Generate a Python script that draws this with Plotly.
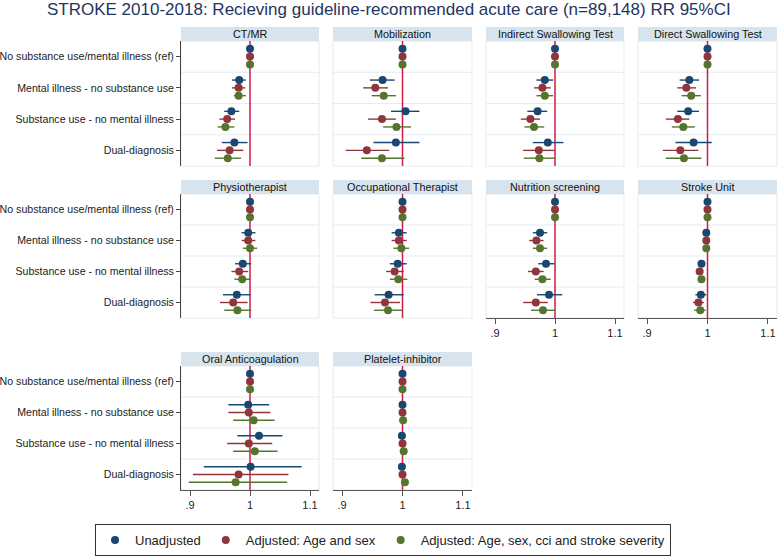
import plotly.graph_objects as go

# ---------------- data ----------------
CATEGORIES = [
    "No substance use/mental illness (ref)",
    "Mental illness - no substance use",
    "Substance use - no mental illness",
    "Dual-diagnosis",
]
SERIES = ["Unadjusted", "Adjusted: Age and sex", "Adjusted: Age, sex, cci and stroke severity"]
PANELS = [
    "CT/MR", "Mobilization", "Indirect Swallowing Test", "Direct Swallowing Test",
    "Physiotherapist", "Occupational Therapist", "Nutrition screening", "Stroke Unit",
    "Oral Anticoagulation", "Platelet-inhibitor",
]
X_TICKS = [0.9, 1.0, 1.1]
X_TICK_LABELS = [".9", "1", "1.1"]
TITLE = "STROKE 2010-2018: Recieving guideline-recommended acute care (n=89,148) RR 95%CI"

# each: [unadjusted, age+sex, fully adjusted] x 4 categories
CTMR_RR = [[1, .982, .969, .974], [1, .981, .962, .966], [1, .981, .959, .963]]
CTMR_LO = [[1, .970, .957, .953], [1, .970, .949, .945], [1, .973, .946, .941]]
CTMR_HI = [[1, .993, .982, .996], [1, .992, .975, .989], [1, .993, .974, .985]]

MOB_RR = [[1, .967, 1.005, .989], [1, .955, .966, .941], [1, .969, .990, .966]]
MOB_LO = [[1, .946, .981, .952], [1, .935, .943, .906], [1, .949, .968, .932]]
MOB_HI = [[1, .987, 1.028, 1.028], [1, .976, .989, .978], [1, .989, 1.014, 1.003]]

IST_RR = [[1, .983, .971, .988], [1, .979, .959, .973], [1, .983, .965, .974]]
IST_LO = [[1, .969, .954, .963], [1, .965, .943, .947], [1, .969, .949, .948]]
IST_HI = [[1, .997, .987, 1.014], [1, .993, .975, .999], [1, .997, .982, 1.000]]

DST_RR = [[1, .970, .968, .977], [1, .965, .951, .955], [1, .973, .960, .961]]
DST_LO = [[1, .954, .950, .947], [1, .950, .931, .926], [1, .957, .941, .931]]
DST_HI = [[1, .986, .986, 1.007], [1, .981, .970, .985], [1, .989, .979, .990]]

PHY_RR = [[1, .997, .988, .978], [1, .997, .982, .972], [1, 1.000, .987, .979]]
PHY_LO = [[1, .986, .975, .955], [1, .986, .969, .950], [1, .988, .974, .957]]
PHY_HI = [[1, 1.009, 1.002, 1.001], [1, 1.009, .997, .996], [1, 1.012, 1.001, 1.002]]

OT_RR = [[1, .994, .992, .977], [1, .994, .987, .971], [1, .998, .993, .976]]
OT_LO = [[1, .982, .979, .954], [1, .982, .973, .947], [1, .985, .979, .953]]
OT_HI = [[1, 1.007, 1.007, 1.002], [1, 1.007, 1.002, .996], [1, 1.011, 1.008, 1.000]]

NUT_RR = [[1, .975, .985, .990], [1, .969, .968, .968], [1, .975, .979, .980]]
NUT_LO = [[1, .963, .972, .970], [1, .957, .955, .947], [1, .963, .966, .960]]
NUT_HI = [[1, .987, .999, 1.012], [1, .981, .981, .988], [1, .987, .993, 1.000]]

SU_RR = [[1, .998, .990, .989], [1, .998, .987, .985], [1, .998, .990, .988]]
SU_LO = [[1, .995, .984, .980], [1, .994, .981, .976], [1, .994, .984, .978]]
SU_HI = [[1, 1.001, .995, .998], [1, 1.002, .992, .994], [1, 1.002, .995, .997]]

OAC_RR = [[1, .997, 1.015, 1.001], [1, .998, .998, .981], [1, 1.006, 1.008, .976]]
OAC_LO = [[1, .964, .979, .923], [1, .964, .962, .905], [1, .972, .972, .898]]
OAC_HI = [[1, 1.032, 1.054, 1.086], [1, 1.034, 1.037, 1.064], [1, 1.041, 1.046, 1.062]]

PLT_RR = [[1, 1.000, .999, .999], [1, 1.000, 1.000, 1.000], [1, 1.001, 1.002, 1.004]]
PLT_LO = [[1, .998, .997, .997], [1, .998, .998, .998], [1, .999, 1.000, 1.002]]
PLT_HI = [[1, 1.002, 1.001, 1.001], [1, 1.002, 1.002, 1.002], [1, 1.003, 1.004, 1.006]]

PANEL_DATA = [
    (CTMR_RR, CTMR_LO, CTMR_HI), (MOB_RR, MOB_LO, MOB_HI), (IST_RR, IST_LO, IST_HI),
    (DST_RR, DST_LO, DST_HI), (PHY_RR, PHY_LO, PHY_HI), (OT_RR, OT_LO, OT_HI),
    (NUT_RR, NUT_LO, NUT_HI), (SU_RR, SU_LO, SU_HI), (OAC_RR, OAC_LO, OAC_HI),
    (PLT_RR, PLT_LO, PLT_HI),
]

# ---------------- style / layout ----------------
W, H = 778, 557
COLORS = ["#1a476f", "#90353b", "#55752f"]
OFFSETS = [-0.25, 0.0, 0.25]
COL_X = [(181, 319), (333, 472), (486, 624), (638, 777)]
ROW_Y = [(41, 166), (194, 318), (366, 490)]
HEAD_H = 14
FONT = "Liberation Sans, Arial, sans-serif"
XAXIS_PANELS = {6, 7, 8, 9}


def px_x(v):
    return v / W


def px_y(v):
    return 1 - v / H


fig = go.Figure()
shapes = []
annotations = []
layout_axes = {}

for k, title in enumerate(PANELS):
    r, c = divmod(k, 4)
    n = k + 1
    xs = "" if n == 1 else str(n)
    rr, lo, hi = PANEL_DATA[k]
    for s in range(3):
        ys = [i + 1 + OFFSETS[s] for i in range(len(CATEGORIES))]
        fig.add_trace(go.Scatter(
            x=rr[s], y=ys, mode="markers",
            marker=dict(color=COLORS[s], size=8),
            error_x=dict(type="data", symmetric=False,
                         array=[h - e for h, e in zip(hi[s], rr[s])],
                         arrayminus=[e - l for e, l in zip(rr[s], lo[s])],
                         color=COLORS[s], thickness=1.4, width=0),
            name=SERIES[s], legendgroup=SERIES[s], showlegend=(k == 0),
            xaxis="x" + xs, yaxis="y" + xs, hoverinfo="skip",
        ))
    x0, x1 = COL_X[c]
    y0, y1 = ROW_Y[r]
    show_x = k in XAXIS_PANELS
    layout_axes["xaxis" + xs] = dict(
        domain=[px_x(x0), px_x(x1)], anchor="y" + xs, range=[0.885, 1.115],
        tickvals=X_TICKS, ticktext=X_TICK_LABELS, showgrid=False, zeroline=False,
        showticklabels=show_x, ticks="outside" if show_x else "", ticklen=5,
        tickcolor="#555", showline=show_x, linecolor="#555", linewidth=1,
        tickfont=dict(family=FONT, size=11, color="#222"), automargin=False,
    )
    show_y = c == 0
    layout_axes["yaxis" + xs] = dict(
        domain=[px_y(y1), px_y(y0)], anchor="x" + xs, range=[4.5, 0.5],
        tickvals=[1, 2, 3, 4], ticktext=CATEGORIES, showgrid=False, zeroline=False,
        showticklabels=show_y, ticks="outside" if show_y else "", ticklen=4,
        tickcolor="#444", showline=show_y, linecolor="#444", linewidth=1,
        tickfont=dict(family=FONT, size=10.6, color="#222"), automargin=False,
    )
    # panel border
    shapes.append(dict(type="rect", xref="x%s domain" % xs, yref="y%s domain" % xs,
                       x0=0, x1=1, y0=0, y1=1, line=dict(color="#e4ebf1", width=1),
                       layer="below"))
    # category separators
    for g in [1.5, 2.5, 3.5]:
        shapes.append(dict(type="line", xref="x%s domain" % xs, yref="y" + xs,
                           x0=0, x1=1, y0=g, y1=g,
                           line=dict(color="#e4ebf1", width=1), layer="below"))
    # reference line
    shapes.append(dict(type="line", xref="x" + xs, yref="y%s domain" % xs,
                       x0=1, x1=1, y0=0, y1=1,
                       line=dict(color="#d11a48", width=1.5), layer="below"))
    # header strip
    shapes.append(dict(type="rect", xref="paper", yref="paper",
                       x0=px_x(x0), x1=px_x(x1), y0=px_y(y0), y1=px_y(y0 - HEAD_H),
                       fillcolor="#d7e4ee", line=dict(width=0), layer="below"))
    annotations.append(dict(text=title, xref="paper", yref="paper",
                            x=px_x((x0 + x1) / 2), y=px_y(y0 - HEAD_H / 2),
                            xanchor="center", yanchor="middle", showarrow=False,
                            font=dict(family=FONT, size=10.8, color="#111")))

annotations.append(dict(text=TITLE, xref="paper", yref="paper", x=0.5, y=px_y(10),
                        xanchor="center", yanchor="middle", showarrow=False,
                        font=dict(family=FONT, size=17, color="#1e3560")))

fig.update_layout(
    width=W, height=H, margin=dict(l=0, r=0, t=0, b=0, autoexpand=False),
    paper_bgcolor="white", plot_bgcolor="white",
    shapes=shapes, annotations=annotations,
    legend=dict(orientation="h", x=px_x(95), y=px_y(524), xanchor="left", yanchor="top",
                bordercolor="#333", borderwidth=1, bgcolor="white",
                font=dict(family=FONT, size=13, color="#222"), itemclick=False),
    **layout_axes,
)

fig.write_html("out.html")
